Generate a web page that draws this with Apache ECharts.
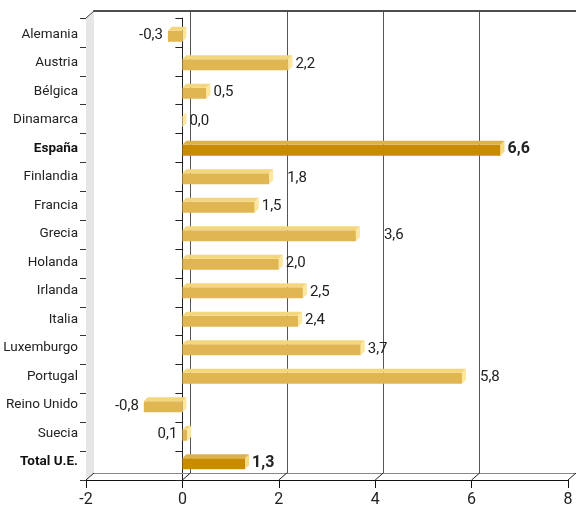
<!DOCTYPE html>
<html>
<head>
<meta charset="utf-8">
<script src="https://cdn.jsdelivr.net/npm/echarts@6/dist/echarts.min.js"></script>
<style>
  html, body { margin: 0; padding: 0; background: #fff; }
  #chart { width: 576px; height: 509px; }
</style>
</head>
<body>
<div id="chart"></div>
<script>
// Annual change by country (%)
const categories = ['Alemania', 'Austria', 'Bélgica', 'Dinamarca', 'España', 'Finlandia', 'Francia', 'Grecia',
  'Holanda', 'Irlanda', 'Italia', 'Luxemburgo', 'Portugal', 'Reino Unido', 'Suecia', 'Total U.E.'];
const values = [-0.3, 2.2, 0.5, 0.0, 6.6, 1.8, 1.5, 3.6, 2.0, 2.5, 2.4, 3.7, 5.8, -0.8, 0.1, 1.3];
const highlighted = ['España', 'Total U.E.'];
const xTicks = [-2, 0, 2, 4, 6, 8];

// ---- styling / layout ----
const FONT = '"Liberation Sans Narrow", "Arial Narrow", Roboto, sans-serif';
const TEXT = '#222';
const DX = 8, DY = 7;                       // depth of the 3D box
const FRONT = { left: 86, right: 8, top: 18, bottom: 29 };
const BACK = { left: FRONT.left + DX, right: FRONT.right - DX, top: FRONT.top - DY, bottom: FRONT.bottom + DY };
const BARS = { left: 86, right: 8, top: 20, bottom: 33 };
const BAR_FACE = 11, BAR_DEPTH = 4;
const COLORS = {
  normal: { front: '#E0B652', top: '#F4D67C', side: '#FDE79E' },
  strong: { front: '#C98B00', top: '#DDB24C', side: '#F6D983' }
};
// extra spacing for a few value labels
const labelNudge = { 'Finlandia': 11, 'Grecia': 21, 'Portugal': 11 };
const labelSide = { 'Suecia': 'left' };

const fmt = v => v.toFixed(1).replace('.', ',');
const xMin = xTicks[0], xMax = xTicks[xTicks.length - 1], xStep = xTicks[1] - xTicks[0];

function renderFrame(params, api) {
  const r = params.coordSys;
  const left = r.x, top = r.y, bottom = r.y + r.height;
  const line = (x1, y1, x2, y2, color) => ({
    type: 'line', shape: { x1, y1, x2, y2 }, style: { stroke: color, lineWidth: 1 }
  });
  const children = [{
    type: 'polygon',
    shape: { points: [[left, top], [left + DX, top - DY], [left + DX, bottom - DY], [left, bottom]] },
    style: { fill: '#e6e6e6' }
  }, line(left, top, left + DX, top - DY, '#444')];
  xTicks.forEach(t => {
    const x = api.coord([t, 0])[0];
    children.push(line(x, bottom, x + DX, bottom - DY, '#222'));
  });
  return { type: 'group', children };
}

function renderBar(params, api) {
  const v = api.value(0), i = api.value(1);
  const name = categories[i];
  const strong = highlighted.includes(name);
  const c = strong ? COLORS.strong : COLORS.normal;
  const p0 = api.coord([0, i]), p1 = api.coord([v, i]);
  const cy = p0[1];
  const xl = Math.min(p0[0], p1[0]), xr = Math.max(p0[0], p1[0]);
  const fTop = cy - BAR_FACE / 2 + BAR_DEPTH / 2, fBot = fTop + BAR_FACE;
  const children = [
    { type: 'rect', shape: { x: xl, y: fTop, width: xr - xl, height: BAR_FACE }, style: { fill: c.front } },
    { type: 'polygon', shape: { points: [[xl, fTop], [xl + BAR_DEPTH, fTop - BAR_DEPTH], [xr + BAR_DEPTH, fTop - BAR_DEPTH], [xr, fTop]] }, style: { fill: c.top } },
    { type: 'polygon', shape: { points: [[xr, fTop], [xr + BAR_DEPTH, fTop - BAR_DEPTH], [xr + BAR_DEPTH, fBot - BAR_DEPTH], [xr, fBot]] }, style: { fill: c.side } }
  ];
  const side = labelSide[name] || (v < 0 ? 'left' : 'right');
  const tx = side === 'left' ? xl - 5 : xr + 7 + (labelNudge[name] || 0);
  children.push({
    type: 'text',
    x: tx, y: cy + 1,
    style: {
      text: fmt(v),
      align: side === 'left' ? 'right' : 'left',
      verticalAlign: 'middle',
      fontFamily: FONT,
      fontSize: strong ? 16 : 15,
      fontWeight: strong ? 'bold' : 'normal',
      fill: TEXT
    }
  });
  return { type: 'group', children };
}

const gridBase = { containLabel: false, outerBoundsMode: 'none' };
const chart = echarts.init(document.getElementById('chart'), null, { renderer: 'canvas' });
chart.setOption({
  animation: false,
  backgroundColor: '#fff',
  grid: [
    Object.assign({}, gridBase, BACK),
    Object.assign({}, gridBase, FRONT),
    Object.assign({}, gridBase, BARS)
  ],
  xAxis: [
    { gridIndex: 0, type: 'value', min: xMin, max: xMax, interval: xStep, position: 'top',
      axisLine: { show: true, lineStyle: { color: '#4d4d4d', width: 2 } },
      axisTick: { show: false }, axisLabel: { show: false },
      splitLine: { show: true, showMinLine: false, lineStyle: { color: '#555', width: 1 } } },
    { gridIndex: 0, type: 'value', min: xMin, max: xMax, interval: xStep, position: 'bottom',
      axisLine: { show: true, lineStyle: { color: '#888', width: 1 } },
      axisTick: { show: false }, axisLabel: { show: false }, splitLine: { show: false } },
    { gridIndex: 1, type: 'value', min: xMin, max: xMax, interval: xStep, position: 'bottom',
      axisLine: { show: true, lineStyle: { color: '#111', width: 1 } },
      axisTick: { show: true, length: 8, lineStyle: { color: '#111' } },
      axisLabel: { margin: 12, fontFamily: FONT, fontSize: 16, color: TEXT },
      splitLine: { show: false } },
    { gridIndex: 2, type: 'value', min: xMin, max: xMax, interval: xStep, show: false }
  ],
  yAxis: [
    { gridIndex: 0, type: 'category', data: categories, inverse: true, show: false },
    { gridIndex: 1, type: 'category', data: categories, inverse: true, position: 'left',
      axisLine: { show: true, onZero: false, lineStyle: { color: '#333' } },
      axisTick: { show: true, length: 6, lineStyle: { color: '#333' } },
      axisLabel: { show: false }, splitLine: { show: false } },
    { gridIndex: 1, type: 'category', data: categories, inverse: true, position: 'left',
      axisLine: { show: true, onZero: true, lineStyle: { color: '#222' } },
      axisTick: { show: true, length: 7, lineStyle: { color: '#222' } },
      axisLabel: { show: false }, splitLine: { show: false } },
    { gridIndex: 2, type: 'category', data: categories, inverse: true, position: 'left',
      axisLine: { show: false }, axisTick: { show: false }, splitLine: { show: false },
      axisLabel: {
        margin: 8, fontFamily: FONT, fontSize: 13.5, color: TEXT,
        formatter: name => highlighted.includes(name) ? '{b|' + name + '}' : name,
        rich: { b: { fontFamily: FONT, fontSize: 13.5, fontWeight: 'bold', color: '#111' } }
      } }
  ],
  series: [
    { type: 'custom', name: 'frame', xAxisIndex: 2, yAxisIndex: 1, silent: true, z: 1, clip: false,
      renderItem: renderFrame, data: [[0, 0]] },
    { type: 'custom', name: 'bars', xAxisIndex: 3, yAxisIndex: 3, silent: true, z: 5, clip: false,
      renderItem: renderBar, encode: { x: 0, y: 1 },
      data: values.map((v, i) => [v, i]) }
  ]
});
</script>
</body>
</html>
